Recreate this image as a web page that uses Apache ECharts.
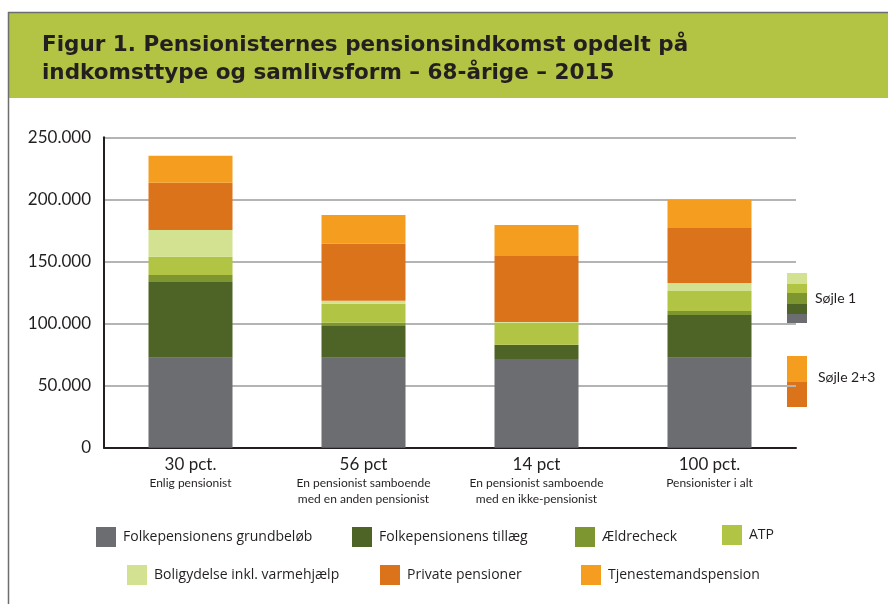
<!DOCTYPE html>
<html><head><meta charset="utf-8">
<script src="https://cdn.jsdelivr.net/npm/echarts@6/dist/echarts.min.js"></script>
<style>html,body{margin:0;padding:0;background:#fff}#c{width:888px;height:604px}</style>
</head><body><div id="c"></div>
<script>
const categories = ["30 pct.", "56 pct", "14 pct", "100 pct."];
const subLabels = ["Enlig pensionist", "En pensionist samboende\nmed en anden pensionist", "En pensionist samboende\nmed en ikke-pensionist", "Pensionister i alt"];
const seriesNames = ["Folkepensionens grundbeløb", "Folkepensionens tillæg", "Ældrecheck", "ATP", "Boligydelse inkl. varmehjælp", "Private pensioner", "Tjenestemandspension"];
const grundbelob = [72500, 72500, 71400, 72500];
const tillaeg = [60900, 25500, 11500, 34400];
const aeldrecheck = [5600, 2600, 0, 3200];
const atp = [14800, 15300, 17700, 16100];
const boligydelse = [21500, 2400, 600, 6400];
const privatePension = [38100, 45900, 53100, 44300];
const tjenestemand = [21700, 23300, 25000, 22800];
const yTicks = [0, 50000, 100000, 150000, 200000, 250000];
const colors = ["#6c6d70", "#4e6427", "#7e962f", "#b2c444", "#d2e291", "#db731b", "#f59d1e"];
const values = [grundbelob, tillaeg, aeldrecheck, atp, boligydelse, privatePension, tjenestemand];

const FONT = "Lato, 'Open Sans', sans-serif";
const LFONT = "'Open Sans', Lato, sans-serif";
const legendPos = [[96,527],[352,527],[575,527],[722,525],[127,565],[380,565],[581,565]];
const legends = seriesNames.map((n,i)=>({
  data:[n], left: legendPos[i][0], top: legendPos[i][1], padding:0,
  itemWidth:20, itemHeight:20, selectedMode:false, icon:'rect',
  textStyle:{fontFamily:LFONT, fontSize:14, color:'#231f20', padding:[0,0,0,2]}
}));

const chart = echarts.init(document.getElementById('c'));
chart.setOption({
  animation:false,
  backgroundColor:'#fff',
  title:{text:"Figur 1. Pensionisternes pensionsindkomst opdelt på\nindkomsttype og samlivsform – 68-årige – 2015", left:37, top:26,
    textStyle:{fontFamily:"'DejaVu Sans', sans-serif", fontSize:21.5, fontWeight:'bold', color:'#231f20', lineHeight:28}},
  legend: legends,
  grid:{left:104, right:92, top:137.3, bottom:156.3},
  xAxis:{type:'category', data:categories,
    axisLine:{lineStyle:{color:'#231f20', width:2}}, axisTick:{show:false},
    axisLabel:{margin:7, interval:0, formatter:(v,i)=>'{a|'+v+'}\n{b|'+subLabels[i]+'}',
      rich:{a:{fontFamily:FONT, fontSize:17, color:'#231f20', lineHeight:20},
            b:{fontFamily:FONT, fontSize:12, color:'#231f20', lineHeight:16}}}},
  yAxis:{type:'value', min:yTicks[0], max:yTicks[yTicks.length-1], interval:50000,
    axisLine:{show:true, lineStyle:{color:'#231f20', width:2}}, axisTick:{show:false},
    splitLine:{lineStyle:{color:'#b4b4b4', width:2}},
    axisLabel:{margin:13, fontFamily:FONT, fontSize:17, color:'#231f20', padding:[11,0,0,0],
      formatter:v=>v===0?'0':String(v).replace(/\B(?=(\d{3})+(?!\d))/g,'.')}},
  series: seriesNames.map((n,i)=>({name:n, type:'bar', stack:'s', barWidth:84, data:values[i],
    itemStyle:{color:colors[i]}})),
  graphic:[
    {type:'rect', z:-10, shape:{x:8,y:12,width:880,height:86}, style:{fill:'#b3c343'}},
    {type:'line', shape:{x1:8,y1:12.5,x2:888,y2:12.5}, style:{stroke:'#6d6e70', lineWidth:1.5}},
    {type:'line', shape:{x1:8.5,y1:12,x2:8.5,y2:604}, style:{stroke:'#6d6e70', lineWidth:1.5}},
    {type:'rect', shape:{x:787,y:273,width:20,height:11}, style:{fill:colors[4]}},
    {type:'rect', shape:{x:787,y:284,width:20,height:9}, style:{fill:colors[3]}},
    {type:'rect', shape:{x:787,y:293,width:20,height:11}, style:{fill:colors[2]}},
    {type:'rect', shape:{x:787,y:304,width:20,height:10}, style:{fill:colors[1]}},
    {type:'rect', shape:{x:787,y:314,width:20,height:9}, style:{fill:colors[0]}},
    {type:'text', left:815, top:291, style:{text:'Søjle 1', fontFamily:FONT, fontSize:14, fill:'#231f20'}},
    {type:'rect', shape:{x:787,y:356,width:20,height:26}, style:{fill:colors[6]}},
    {type:'rect', shape:{x:787,y:382,width:20,height:25}, style:{fill:colors[5]}},
    {type:'text', left:818, top:370, style:{text:'Søjle 2+3', fontFamily:FONT, fontSize:14, fill:'#231f20'}}
  ]
});
</script></body></html>
